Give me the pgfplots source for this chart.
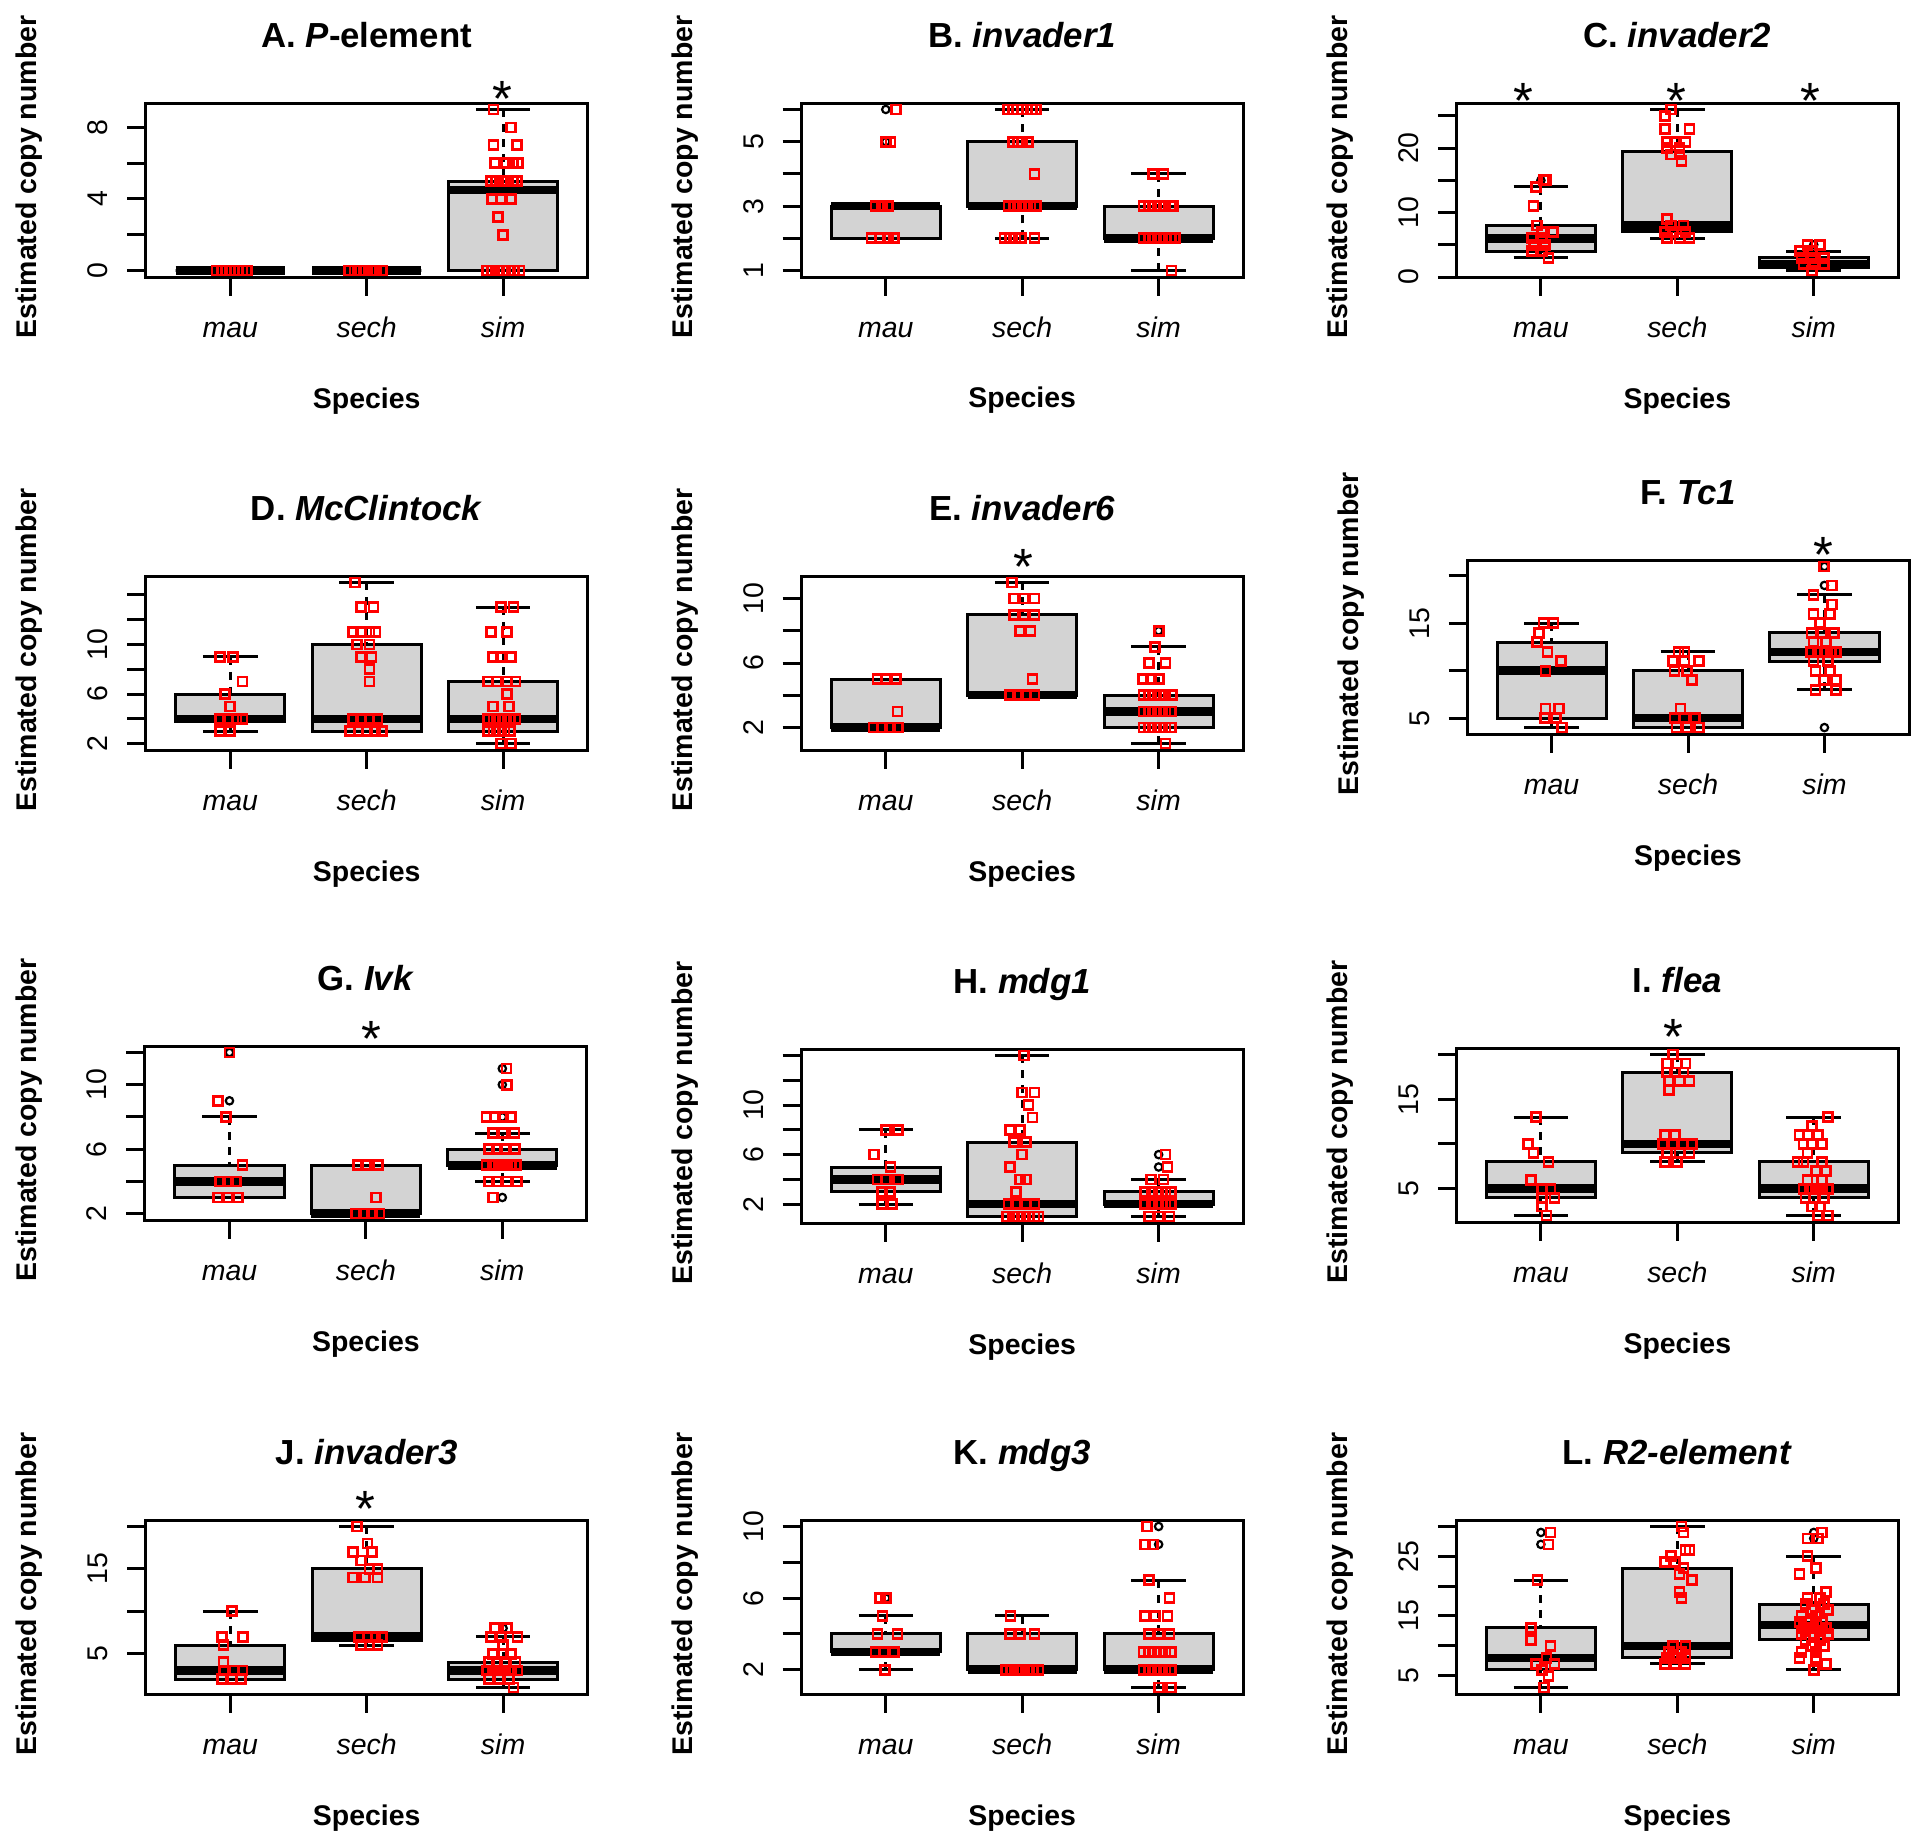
\documentclass[border=0pt]{standalone}
\usepackage{fontspec}
\setmainfont{Liberation Sans}
\usepackage{pgfplots}
\pgfplotsset{compat=1.18}
\usepgfplotslibrary{statistics}

\definecolor{boxgray}{HTML}{D3D3D3}
\newcommand\tx[1]{\mbox{#1}}
\newcommand\basefont{\fontsize{8.1}{9.5}\selectfont}
\newcommand\titlefont{\fontsize{9.9}{11.5}\selectfont}

\pgfplotsset{
  rpanel/.style={
    scale only axis, width=44.2mm, height=17.4mm, anchor=north west,
    xmin=0.38, xmax=3.62, xtick={1,2,3},
    xticklabels={\tx{\itshape mau},\tx{\itshape sech},\tx{\itshape sim}},
    tick pos=left, tick align=outside, major tick length=1.85mm,
    tick style={black, line width=0.3mm},
    axis line style={line width=0.3mm},
    clip=false,
    tick label style={font=\basefont},
    xticklabel style={anchor=base},
    xticklabel shift=4.15mm,
    yticklabel style={rotate=90, anchor=base},
    yticklabel shift=1.95mm,
    every axis title shift=0pt,
    title style={font=\titlefont, at={(axis description cs:0.5,1.3218)}, anchor=base},
    label style={font=\basefont},
    xlabel={\bfseries Species},
    ylabel={\bfseries Estimated copy number},
    xlabel style={at={(axis description cs:0.5,-0.7529)}, anchor=base},
    ylabel style={at={(axis description cs:-0.246,0.5747)}, anchor=base},
  },
  rbx/.style={black, line width=0.3mm, mark=o, mark size=0.37mm,
    mark options={solid, fill=none, line width=0.22mm}},
  pts/.style={only marks, mark=square, mark size=0.45mm, red,
    mark options={solid, line width=0.27mm}},
  boxplot/draw direction=y,
  boxplot/box extend=0.8,
  boxplot/whisker extend=0.4,
  boxplot/every box/.style={fill=boxgray},
  boxplot/every median/.style={line width=0.85mm},
  boxplot/draw/lower whisker/.code={%
    \draw[dash pattern=on 0.8mm off 0.7mm]
      (boxplot cs:\pgfplotsboxplotvalue{lower whisker}) --
      (boxplot cs:\pgfplotsboxplotvalue{lower quartile});
    \draw[solid]
      (boxplot whisker cs:\pgfplotsboxplotvalue{lower whisker},0) --
      (boxplot whisker cs:\pgfplotsboxplotvalue{lower whisker},1);
  },
  boxplot/draw/upper whisker/.code={%
    \draw[dash pattern=on 0.8mm off 0.7mm]
      (boxplot cs:\pgfplotsboxplotvalue{upper whisker}) --
      (boxplot cs:\pgfplotsboxplotvalue{upper quartile});
    \draw[solid]
      (boxplot whisker cs:\pgfplotsboxplotvalue{upper whisker},0) --
      (boxplot whisker cs:\pgfplotsboxplotvalue{upper whisker},1);
  },
}

% position, lower whisker, Q1, median, Q3, upper whisker
\newcommand\rbox[6]{\addplot[rbx, boxplot prepared={draw position=#1,
  lower whisker=#2, lower quartile=#3, median=#4, upper quartile=#5,
  upper whisker=#6}] coordinates {};}
% same, plus outliers as rows
\newcommand\rboxo[7]{\addplot[rbx, boxplot prepared={draw position=#1,
  lower whisker=#2, lower quartile=#3, median=#4, upper quartile=#5,
  upper whisker=#6}] table[row sep=\\, y index=0] {v\\#7};}
\newcommand\sig[2]{\node[anchor=base, font=\fontsize{14.5}{15}\selectfont,
  yshift=#2] at (axis description cs:#1,1) {*};}

\begin{document}
\begin{tikzpicture}
\path[use as bounding box] (0,0) rectangle (192mm,-184.1mm);

% ---------- A
\begin{axis}[rpanel, at={(14.57mm,-10.3mm)},
  title={\bfseries A. \textit{P}-element},
  ymin=-0.36, ymax=9.36, ytick={0,2,4,6,8},
  yticklabels={\tx{0},,\tx{4},,\tx{8}}]
\rbox{1}{0}{0}{0}{0}{0}
\rbox{2}{0}{0}{0}{0}{0}
\rbox{3}{0}{0}{4.5}{5}{9}
\addplot[pts] coordinates {
 (0.90,0)(0.94,0)(0.97,0)(1.00,0)(1.03,0)(1.06,0)(1.09,0)(1.12,0)
 (1.87,0)(1.91,0)(1.95,0)(1.99,0)(2.03,0)(2.07,0)(2.11,0)
 (2.93,9)(3.06,8)(2.93,7)(3.10,7)(2.94,6)(3.02,6)(3.07,6)(3.11,6)
 (2.91,5)(2.95,5)(2.99,5)(3.03,5)(3.07,5)(3.10,5)(2.92,4)(2.98,4)(3.06,4)
 (2.96,3)(3.00,2)(2.88,0)(2.92,0)(2.96,0)(3.00,0)(3.04,0)(3.08,0)(3.12,0)};
\sig{0.806}{-1.35mm}
\end{axis}

% ---------- B
\begin{axis}[rpanel, at={(80.12mm,-10.3mm)},
  title={\bfseries B. \textit{invader1}},
  ymin=0.8, ymax=6.2, ytick={1,2,3,4,5,6},
  yticklabels={\tx{1},,\tx{3},,\tx{5},}]
\rboxo{1}{2}{2}{3}{3}{3}{5\\6\\}
\rbox{2}{2}{3}{3}{5}{6}
\rbox{3}{1}{2}{2}{3}{4}
\addplot[pts] coordinates {
 (1.075,6)(1.00,5)(1.035,5)(0.925,3)(0.97,3)(1.015,3)(0.895,2)(0.955,2)(1.015,2)(1.06,2)
 (1.895,6)(1.93,6)(1.965,6)(2.0,6)(2.035,6)(2.07,6)(2.10,6)(1.93,5)(1.97,5)(2.0,5)(2.04,5)
 (2.09,4)(1.90,3)(1.94,3)(1.98,3)(2.02,3)(2.06,3)(2.10,3)(1.87,2)(1.91,2)(1.95,2)(1.99,2)(2.09,2)
 (2.96,4)(3.035,4)(2.89,3)(2.93,3)(2.97,3)(3.01,3)(3.05,3)(3.09,3)(3.11,3)
 (2.89,2)(2.93,2)(2.97,2)(3.01,2)(3.05,2)(3.09,2)(3.12,2)(3.095,1)};
\end{axis}

% ---------- C
\begin{axis}[rpanel, at={(145.63mm,-10.3mm)},
  title={\bfseries C. \textit{invader2}},
  ymin=0, ymax=27, ytick={0,5,10,15,20,25},
  yticklabels={\tx{0},,\tx{10},,\tx{20},}]
\rboxo{1}{3}{4}{6}{8}{14}{15\\}
\rbox{2}{6}{7}{8}{19.5}{26}
\rboxo{3}{1}{1.5}{2}{3}{4}{5\\}
\addplot[pts] coordinates {
 (1.025,15)(1.04,15)(0.965,14)(0.945,11)(0.97,8)(1.01,7)(1.09,7)(0.935,6)(1.01,6)
 (0.95,5)(1.03,5)(0.935,4)(1.01,4)(1.055,3)
 (1.955,26)(1.91,25)(1.91,23)(2.09,23)(1.925,21)(1.985,21)(2.06,21)(1.925,20)(2.015,20)
 (1.955,19)(2.015,19)(2.03,18)(1.925,9)(1.955,8)(2.045,8)(1.91,7)(1.97,7)(2.06,7)
 (1.925,6)(2.015,6)(2.09,6)
 (2.955,5)(3.045,5)(2.90,4)(2.985,4)(2.91,3)(2.985,3)(3.075,3)(2.925,2)(3.0,2)(3.075,2)(2.985,1)};
\sig{0.152}{-1.5mm}
\sig{0.497}{-1.5mm}
\sig{0.802}{-1.5mm}
\end{axis}

% ---------- D
\begin{axis}[rpanel, at={(14.57mm,-57.6mm)},
  title={\bfseries D. \textit{McClintock}},
  ymin=1.48, ymax=15.52, ytick={2,4,6,8,10,12,14},
  yticklabels={\tx{2},,\tx{6},,\tx{10},,}]
\rbox{1}{3}{3.75}{4}{6}{9}
\rbox{2}{3}{3}{4}{10}{15}
\rbox{3}{2}{3}{4}{7}{13}
\addplot[pts] coordinates {
 (0.925,9)(1.02,9)(1.09,7)(0.96,6)(1.0,5)(0.925,4)(0.985,4)(1.045,4)(1.09,4)(0.925,3)(1.0,3)
 (1.915,15)(1.96,13)(2.05,13)(1.90,11)(1.96,11)(2.02,11)(2.065,11)(1.93,10)(2.02,10)
 (1.96,9)(2.035,9)(2.02,8)(2.02,7)(1.90,4)(1.96,4)(2.02,4)(2.08,4)
 (1.88,3)(1.94,3)(2.0,3)(2.06,3)(2.11,3)
 (2.985,13)(3.075,13)(2.91,11)(3.03,11)(2.925,9)(2.985,9)(3.06,9)(2.89,7)(2.955,7)(3.03,7)
 (3.09,7)(3.03,6)(2.925,5)(3.045,5)(2.89,4)(2.93,4)(2.97,4)(3.01,4)(3.05,4)(3.09,4)
 (2.89,3)(2.93,3)(2.97,3)(3.01,3)(3.05,3)(2.985,2)(3.06,2)};
\end{axis}

% ---------- E
\begin{axis}[rpanel, at={(80.12mm,-57.6mm)},
  title={\bfseries E. \textit{invader6}},
  ymin=0.6, ymax=11.4, ytick={2,4,6,8,10},
  yticklabels={\tx{2},,\tx{6},,\tx{10}}]
\rbox{1}{2}{2}{2}{5}{5}
\rbox{2}{4}{4}{4}{9}{11}
\rboxo{3}{1}{2}{3}{4}{7}{8\\}
\addplot[pts] coordinates {
 (0.94,5)(1.0,5)(1.075,5)(1.085,3)(0.91,2)(0.97,2)(1.03,2)(1.09,2)
 (1.925,11)(1.94,10)(2.015,10)(2.09,10)(1.94,9)(2.015,9)(2.09,9)(1.985,8)(2.06,8)
 (2.075,5)(1.91,4)(1.97,4)(2.03,4)(2.09,4)
 (3.005,8)(2.975,7)(2.93,6)(3.05,6)(2.885,5)(2.945,5)(3.005,5)(2.89,4)(2.93,4)(2.97,4)
 (3.01,4)(3.05,4)(3.10,4)(2.89,3)(2.93,3)(2.97,3)(3.01,3)(3.05,3)(3.09,3)
 (2.89,2)(2.93,2)(2.97,2)(3.01,2)(3.05,2)(3.09,2)(3.05,1)};
\sig{0.503}{-0.8mm}
\end{axis}

% ---------- F
\begin{axis}[rpanel, at={(146.7mm,-56.0mm)},
  title={\bfseries F. \textit{Tc1}},
  ymin=3.32, ymax=21.68, ytick={5,10,15,20},
  yticklabels={\tx{5},,\tx{15},}]
\rbox{1}{4}{5}{10}{13}{15}
\rbox{2}{4}{4}{5}{10}{12}
\rboxo{3}{8}{11}{12}{14}{18}{4\\19\\21\\}
\addplot[pts] coordinates {
 (0.94,15)(1.015,15)(0.91,14)(0.895,13)(0.97,12)(1.07,11)(0.955,10)(0.955,6)(1.055,6)
 (0.95,5)(1.03,5)(1.075,4)
 (1.93,12)(1.975,12)(1.89,11)(1.975,11)(2.08,11)(1.90,10)(1.99,10)(2.03,9)(1.945,6)
 (1.90,5)(1.975,5)(2.05,5)(1.915,4)(1.99,4)(2.08,4)
 (2.995,21)(3.055,19)(2.92,18)(3.055,17)(2.92,16)(3.04,16)(2.965,15)(2.905,14)(2.98,14)
 (3.07,14)(2.92,13)(3.01,13)(2.90,12)(2.95,12)(3.0,12)(3.05,12)(3.085,12)(2.92,11)(3.025,11)
 (2.935,10)(3.04,10)(2.995,9)(3.085,9)(2.935,8)(3.085,8)};
\sig{0.806}{-1.2mm}
\end{axis}

% ---------- G
\begin{axis}[rpanel, at={(14.49mm,-104.6mm)},
  title={\bfseries G. \textit{Ivk}},
  ymin=1.6, ymax=12.4, ytick={2,4,6,8,10,12},
  yticklabels={\tx{2},,\tx{6},,\tx{10},}]
\rboxo{1}{3}{3}{4}{5}{8}{9\\12\\}
\rbox{2}{2}{2}{2}{5}{5}
\rboxo{3}{4}{5}{5}{6}{7}{3\\8\\10\\11\\}
\addplot[pts] coordinates {
 (1.0,12)(0.915,9)(0.975,8)(1.095,5)(0.93,4)(0.99,4)(1.05,4)(0.915,3)(0.99,3)(1.065,3)
 (1.94,5)(2.0,5)(2.09,5)(2.075,3)(1.925,2)(1.985,2)(2.045,2)(2.10,2)
 (3.03,11)(3.035,10)(2.885,8)(2.945,8)(3.005,8)(3.065,8)(2.93,7)(3.005,7)(3.09,7)
 (2.90,6)(2.96,6)(3.02,6)(3.095,6)(2.885,5)(2.93,5)(2.975,5)(3.02,5)(3.065,5)(3.10,5)
 (2.90,4)(2.96,4)(3.035,4)(3.11,4)(2.93,3)};
\sig{0.512}{-1.0mm}
\end{axis}

% ---------- H
\begin{axis}[rpanel, at={(80.12mm,-104.9mm)},
  title={\bfseries H. \textit{mdg1}},
  ymin=0.48, ymax=14.52, ytick={2,4,6,8,10,12,14},
  yticklabels={\tx{2},,\tx{6},,\tx{10},,}]
\rbox{1}{2}{3}{4}{5}{8}
\rbox{2}{1}{1}{2}{7}{14}
\rboxo{3}{1}{2}{2}{3}{4}{5\\6\\}
\addplot[pts] coordinates {
 (1.0,8)(1.09,8)(0.915,6)(1.035,5)(0.94,4)(1.0,4)(1.09,4)(0.97,3)(1.03,3)(0.97,2)(1.045,2)
 (2.015,14)(2.0,11)(2.09,11)(2.045,10)(2.075,9)(1.91,8)(1.985,8)(1.94,7)(2.03,7)(2.0,6)
 (1.91,5)(1.985,4)(2.03,4)(1.955,3)(1.90,2)(1.955,2)(2.03,2)(2.09,2)
 (1.89,1)(1.93,1)(1.97,1)(2.01,1)(2.05,1)(2.09,1)(2.12,1)
 (3.05,6)(3.065,5)(2.945,4)(3.035,4)(2.9,3)(2.95,3)(3.0,3)(3.05,3)(3.09,3)
 (2.9,2)(2.95,2)(3.0,2)(3.05,2)(3.09,2)(2.93,1)(3.005,1)(3.08,1)};
\end{axis}

% ---------- I
\begin{axis}[rpanel, at={(145.63mm,-104.8mm)},
  title={\bfseries I. \textit{flea}},
  ymin=1.28, ymax=20.72, ytick={5,10,15,20},
  yticklabels={\tx{5},,\tx{15},}]
\rbox{1}{2}{4}{5}{8}{13}
\rbox{2}{8}{9}{10}{18}{20}
\rbox{3}{2}{4}{5}{8}{13}
\addplot[pts] coordinates {
 (0.965,13)(0.905,10)(0.945,9)(1.055,8)(0.925,6)(1.01,5)(1.07,5)(1.01,4)(1.10,4)(1.01,3)(1.04,2)
 (1.97,20)(1.925,19)(2.0,19)(2.06,19)(1.925,18)(1.985,18)(2.045,18)(1.94,17)(2.015,17)
 (2.09,17)(1.94,16)(1.91,11)(1.985,11)(1.895,10)(1.97,10)(2.045,10)(2.105,10)
 (1.925,9)(2.015,9)(2.09,9)(1.91,8)(2.0,8)
 (3.105,13)(2.985,12)(2.895,11)(2.955,11)(3.03,11)(2.925,10)(2.985,10)(3.06,10)(2.955,9)
 (2.88,8)(2.925,8)(3.06,8)(3.015,7)(3.09,7)(2.955,6)(3.06,6)(2.925,5)(2.97,5)(3.015,5)
 (3.06,5)(3.105,5)(2.94,4)(3.0,4)(3.075,4)(2.985,3)(3.045,3)(3.03,2)(3.105,2)};
\sig{0.491}{-0.6mm}
\end{axis}

% ---------- J
\begin{axis}[rpanel, at={(14.57mm,-152.0mm)},
  title={\bfseries J. \textit{invader3}},
  ymin=0.24, ymax=20.76, ytick={5,10,15,20},
  yticklabels={\tx{5},,\tx{15},}]
\rbox{1}{2}{2}{3}{6}{10}
\rbox{2}{6}{6.5}{7}{15}{20}
\rboxo{3}{1}{2}{3}{4}{7}{8\\}
\addplot[pts] coordinates {
 (1.015,10)(0.94,7)(1.095,7)(0.95,6)(0.95,4)(0.955,3)(1.03,3)(1.09,3)(0.94,2)(1.015,2)(1.08,2)
 (1.93,20)(2.005,18)(1.90,17)(2.04,17)(1.96,16)(2.02,15)(2.08,15)(1.90,14)(1.99,14)(2.08,14)
 (1.945,7)(2.005,7)(2.065,7)(2.11,7)(1.96,6)(2.02,6)(2.08,6)
 (2.94,8)(3.03,8)(2.91,7)(2.985,7)(3.105,7)(3.0,6)(2.925,5)(3.0,5)(3.06,5)
 (2.895,4)(2.955,4)(3.015,4)(3.09,4)(2.88,3)(2.925,3)(2.97,3)(3.015,3)(3.06,3)(3.105,3)
 (2.895,2)(2.97,2)(3.045,2)(3.075,1)};
\sig{0.498}{-0.6mm}
\end{axis}

% ---------- K
\begin{axis}[rpanel, at={(80.12mm,-152.0mm)},
  title={\bfseries K. \textit{mdg3}},
  ymin=0.64, ymax=10.36, ytick={2,4,6,8,10},
  yticklabels={\tx{2},,\tx{6},,\tx{10}}]
\rboxo{1}{2}{3}{3}{4}{5}{6\\}
\rbox{2}{2}{2}{2}{4}{5}
\rboxo{3}{1}{2}{2}{4}{7}{9\\10\\}
\addplot[pts] coordinates {
 (0.955,6)(1.0,6)(0.975,5)(0.94,4)(1.085,4)(0.925,3)(0.985,3)(1.06,3)(0.995,2)
 (1.915,5)(1.91,4)(1.985,4)(2.09,4)(1.88,2)(1.92,2)(1.96,2)(2.0,2)(2.04,2)(2.08,2)(2.12,2)
 (2.915,10)(2.90,9)(2.96,9)(2.93,7)(3.08,6)(2.90,5)(2.975,5)(3.065,5)(2.93,4)(3.005,4)(3.08,4)
 (2.89,3)(2.93,3)(2.97,3)(3.01,3)(3.05,3)(3.09,3)(2.89,2)(2.93,2)(2.97,2)(3.01,2)(3.05,2)
 (3.09,2)(3.005,1)(3.09,1)};
\end{axis}

% ---------- L
\begin{axis}[rpanel, at={(145.63mm,-152.0mm)},
  title={\bfseries L. \textit{R2-element}},
  ymin=1.92, ymax=31.08, ytick={5,10,15,20,25,30},
  yticklabels={\tx{5},,\tx{15},,\tx{25},}]
\rboxo{1}{3}{6}{8}{13}{21}{27\\29\\}
\rbox{2}{7}{8}{10}{23}{30}
\rboxo{3}{6}{11}{13.5}{17}{25}{28\\29\\}
\addplot[pts] coordinates {
 (1.07,29)(1.055,27)(0.975,21)(0.925,13)(0.925,11)(1.07,10)(1.04,8)(0.965,7)(1.10,7)
 (1.01,6)(1.055,5)(1.025,3)
 (2.03,30)(2.045,29)(2.06,26)(2.09,26)(1.955,25)(1.91,24)(1.985,24)(2.045,23)(2.015,22)
 (2.105,21)(2.015,19)(2.03,18)(1.97,10)(2.06,10)(1.94,9)(2.03,9)(1.925,8)(1.985,8)(2.06,8)
 (1.91,7)(1.985,7)(2.06,7)
 (3.06,29)(2.955,28)(3.03,28)(2.955,25)(3.015,23)(2.895,22)(3.09,19)(2.955,18)(3.045,18)
 (2.94,17)(3.075,17)(2.985,16)(3.105,16)(2.91,15)(3.015,15)(2.895,14)(2.97,14)(3.06,14)
 (2.925,13)(2.985,13)(3.09,13)(2.91,12)(3.0,12)(3.105,12)(2.94,11)(3.045,11)(2.985,10)
 (3.075,10)(2.91,9)(3.015,9)(2.895,8)(3.015,8)(3.09,7)(3.0,6)};
\end{axis}
\end{tikzpicture}
\end{document}
